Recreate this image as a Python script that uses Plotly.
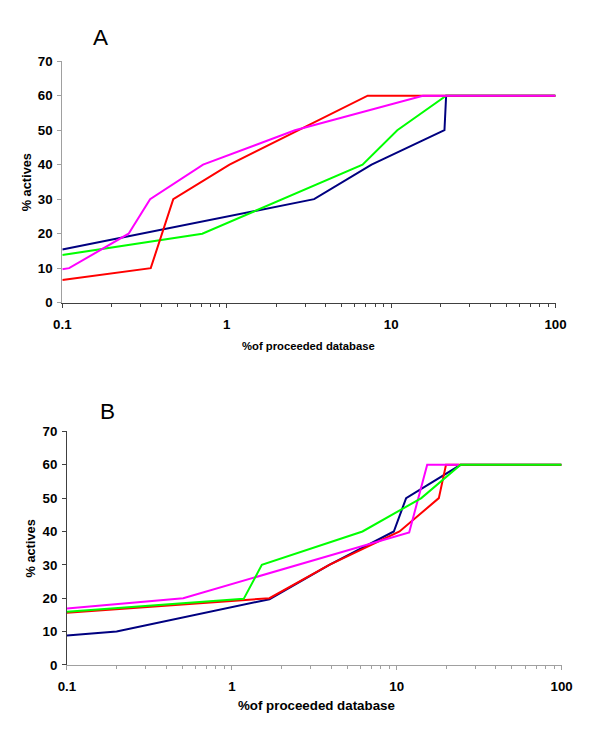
import plotly.graph_objects as go

# ---------- Panel A data ----------
a_navy_x = [0.1, 3.4, 7.6, 21.1, 21.6, 100]
a_navy_y = [15.4, 30, 40, 50, 60, 60]
a_red_x = [0.1, 0.345, 0.473, 1.04, 7.2, 100]
a_red_y = [6.6, 10, 30, 40, 60, 60]
a_green_x = [0.1, 0.71, 6.7, 10.9, 21.6, 100]
a_green_y = [13.8, 20, 40, 50, 60, 60]
a_mag_x = [0.1, 0.11, 0.253, 0.342, 0.718, 2.6, 15.6, 100]
a_mag_y = [9.7, 10, 20, 30, 40, 50, 60, 60]

# ---------- Panel B data ----------
b_navy_x = [0.1, 0.2, 1.69, 3.9, 9.6, 11.4, 24.4, 100]
b_navy_y = [8.8, 10, 19.7, 30, 40, 50, 60, 60]
b_red_x = [0.1, 1.69, 3.9, 10.4, 18, 19.9, 100]
b_red_y = [15.6, 20, 30, 40, 50, 60, 60]
b_green_x = [0.1, 1.18, 1.52, 6.2, 14.1, 24.4, 100]
b_green_y = [15.9, 19.8, 30, 40, 50, 60, 60]
b_mag_x = [0.1, 0.507, 11.9, 15.3, 23.8]
b_mag_y = [16.9, 20, 39.7, 60, 60]

x_tickvals = [0.1, 1, 10, 100]
x_ticktext = ["0.1", "1", "10", "100"]
x_minor = [m * d for d in (0.1, 1, 10) for m in range(2, 10)]
y_tickvals = [0, 10, 20, 30, 40, 50, 60, 70]

NAVY, RED, GREEN, MAG = "#000080", "#FF0000", "#00FF00", "#FF00FF"
LW = 2

fig = go.Figure()

def add(x, y, color, xa, ya):
    fig.add_trace(go.Scatter(x=x, y=y, mode="lines", line=dict(color=color, width=LW),
                             xaxis=xa, yaxis=ya, showlegend=False, hoverinfo="skip"))

# Panel A
add(a_navy_x, a_navy_y, NAVY, "x", "y")
add(a_green_x, a_green_y, GREEN, "x", "y")
add(a_red_x, a_red_y, RED, "x", "y")
add(a_mag_x, a_mag_y, MAG, "x", "y")
# Panel B
add(b_navy_x, b_navy_y, NAVY, "x2", "y2")
add(b_red_x, b_red_y, RED, "x2", "y2")
add(b_mag_x, b_mag_y, MAG, "x2", "y2")
add(b_green_x, b_green_y, GREEN, "x2", "y2")

W, H = 600, 736
# the photographed page carries a small white border; map target pixel
# positions into figure pixels so the final picture lines up
SX, SY, OFF = 0.974, 0.979, 8.0
px = lambda P: (P / SX - OFF) / W
py = lambda P: 1 - (P / SY - OFF) / H
FS = 1.025

FAM = "Liberation Sans, Arial, sans-serif"
tick_font = dict(family=FAM, size=13 * FS, color="black", weight="bold")
DARK, GRAY = "#404040", "#a0a0a0"

def xaxis(domain, anchor, col):
    return dict(type="log", range=[-1, 2], domain=domain, anchor=anchor,
                tickvals=x_tickvals, ticktext=x_ticktext, ticks="outside", ticklen=4,
                tickcolor=col, showline=True, linecolor=col, linewidth=1,
                showgrid=False, zeroline=False, tickfont=tick_font, ticklabelstandoff=5,
                minor=dict(tickvals=x_minor, ticks="outside", ticklen=3, tickcolor=col,
                           showgrid=False))

def yaxis(domain, anchor, col):
    return dict(range=[0, 70], domain=domain, anchor=anchor, tickvals=y_tickvals,
                ticks="outside", ticklen=4, tickcolor=col, showline=True, linecolor=col,
                linewidth=1, showgrid=False, zeroline=False, tickfont=tick_font,
                ticklabelstandoff=2)

fig.update_layout(
    width=W, height=H, margin=dict(l=0, r=0, t=0, b=0),
    paper_bgcolor="white", plot_bgcolor="white",
    xaxis=xaxis([px(61.5), px(558.5)], "y", DARK),
    yaxis=yaxis([py(303.3), py(62)], "x", GRAY),
    xaxis2=xaxis([px(66.2), px(564.6)], "y2", GRAY),
    yaxis2=yaxis([py(665.3), py(432)], "x2", DARK),
)

def tf(size):
    return dict(family=FAM, size=size * FS, color="black", weight="bold")

ann = [
    dict(text="A", x=px(100), y=py(38), font=dict(family=FAM, size=22 * FS, color="black")),
    dict(text="B", x=px(107), y=py(412), font=dict(family=FAM, size=22 * FS, color="black")),
    dict(text="%of proceeded database", x=px(310), y=py(347), font=tf(11)),
    dict(text="%of proceeded database", x=px(318), y=py(706), font=tf(13)),
    dict(text="% actives", x=px(25), y=py(183), textangle=-90, font=tf(12.5)),
    dict(text="% actives", x=px(29), y=py(549), textangle=-90, font=tf(12.5)),
]
for a in ann:
    a.update(xref="paper", yref="paper", showarrow=False, xanchor="center", yanchor="middle")
fig.update_layout(annotations=ann)

post = ("document.documentElement.style.margin='0';document.body.style.margin='0';"
        "document.documentElement.style.overflow='hidden';document.body.style.overflow='hidden';")

fig.write_html("out.html", config={"displayModeBar": False}, post_script=post)
